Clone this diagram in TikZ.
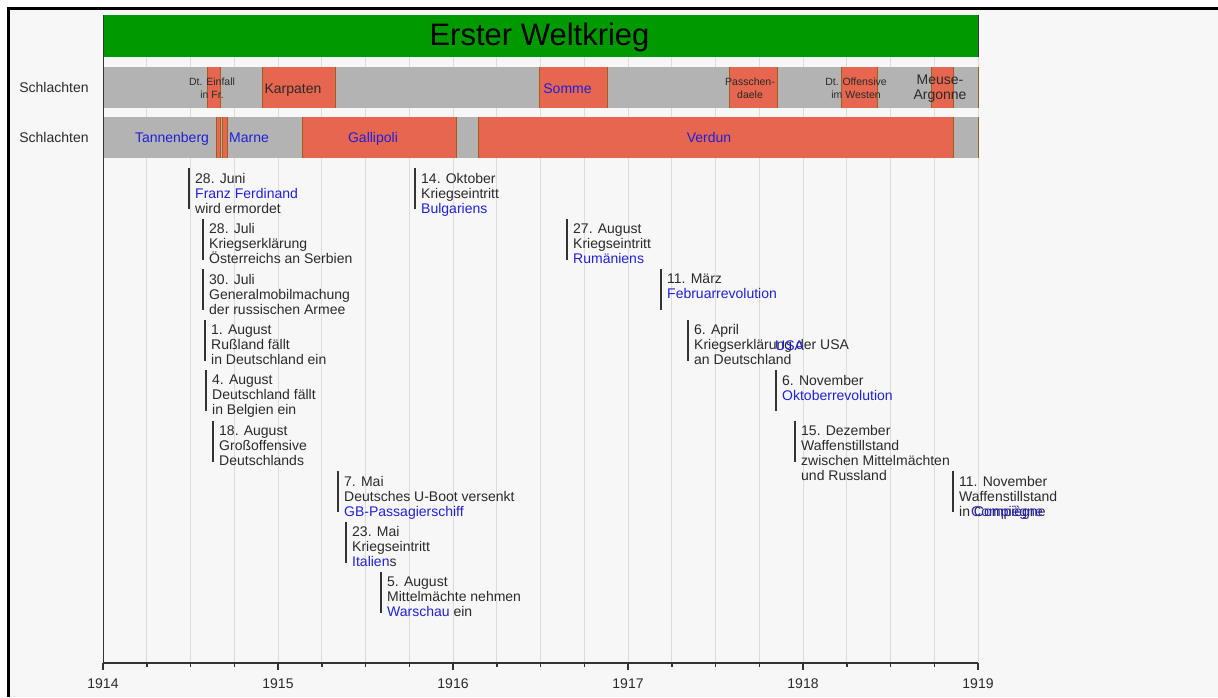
\documentclass[tikz,border=0pt]{standalone}
\usepackage{fontspec}
\setmainfont{Liberation Sans}
\definecolor{bgc}{HTML}{F7F7F7}
\definecolor{greenc}{HTML}{009900}
\definecolor{grayc}{HTML}{B3B3B3}
\definecolor{redc}{HTML}{E66650}
\definecolor{edgec}{HTML}{A0601A}
\definecolor{gridc}{HTML}{DCDCDC}
\definecolor{axisc}{HTML}{333333}
\definecolor{textc}{HTML}{2A2A2A}
\definecolor{linkc}{HTML}{2020D8}
\newcommand{\lk}[1]{\textcolor{linkc}{#1}}
\newcommand{\battlebar}[4]{%
  \fill[redc] (#1,#3) rectangle (#2,#4);
  \draw[edgec,line width=1pt] (#1,#3) -- (#1,#4) (#2,#3) -- (#2,#4);}
\begin{document}
\begin{tikzpicture}[x=1pt,y=-1pt,
  evt/.style={font=\fontsize{14}{15}\selectfont, align=left, inner sep=0pt, text=textc, anchor=north west, execute at begin node=\strut},
  evline/.style={draw=axisc, line width=1.5pt},
  blab/.style={font=\fontsize{14}{15}\selectfont, inner sep=0pt, anchor=base},
  slab/.style={font=\fontsize{10.5}{13}\selectfont, inner sep=0pt, anchor=north, align=center, text=textc, execute at begin node=\strut},
  mlab/.style={font=\fontsize{14}{15}\selectfont, inner sep=0pt, anchor=north, align=center, text=textc, execute at begin node=\strut},
  ylab/.style={font=\fontsize{14}{15}\selectfont, inner sep=0pt, anchor=base, text=textc}]
\useasboundingbox (0,0) rectangle (1218,697);
\fill[white] (0,0) rectangle (1218,697);
\fill[bgc] (8.5,8.5) rectangle (1218,697);
\draw[line width=3pt] (8.5,697) -- (8.5,8.5) -- (1218,8.5);
% grid
\foreach \k in {1,...,20} \draw[gridc, line width=1pt] ({103+43.75*\k},15) -- ({103+43.75*\k},663);
% title bar
\fill[greenc] (103,15) rectangle (978,57);
\draw[axisc, line width=1pt] (978,15) -- (978,57);
\node[font=\fontsize{31}{34}\selectfont, inner sep=0pt, anchor=base, text=black] (title) at (539.5,45.5) {Erster Weltkrieg};
% rows
\fill[grayc] (103,67) rectangle (978,108);
\fill[grayc] (103,117) rectangle (978,158);
\battlebar{207}{220.5}{67}{108}
\battlebar{262}{335}{67}{108}
\battlebar{539.5}{607}{67}{108}
\battlebar{729}{777}{67}{108}
\battlebar{841}{877}{67}{108}
\battlebar{931}{953}{67}{108}
\draw[edgec, line width=1pt] (978,67) -- (978,108) (978,117) -- (978,158);
\battlebar{216}{220}{117}{158}
\battlebar{222}{227}{117}{158}
\battlebar{302}{456.5}{117}{158}
\battlebar{478}{953}{117}{158}
% row labels
\node[blab, text=textc] (row1) at (54,92.5) {Schlachten};
\node[blab, text=textc] (row2) at (54,142.5) {Schlachten};
% battle labels
\node[slab] (einfall) at (212,77.9) {Dt. Einfall\\in Fr.};
\node[blab, text=textc] (karpaten) at (293,93) {Karpaten};
\node[blab, text=linkc] (somme) at (567.5,93) {Somme};
\node[slab] (passchendaele) at (750,77.9) {Passchen-\\daele};
\node[slab] (offensive) at (856,77.9) {Dt. Offensive\\im Westen};
\node[mlab] (meuse) at (940,74.5) {Meuse-\\Argonne};
\node[blab, text=linkc] (tannenberg) at (172,142.5) {Tannenberg};
\node[blab, text=linkc] (marne) at (249,142.5) {Marne};
\node[blab, text=linkc] (gallipoli) at (373,142.5) {Gallipoli};
\node[blab, text=linkc] (verdun) at (709,142.5) {Verdun};
% left axis line
\draw[axisc, line width=1pt] (103,15) -- (103,663);
% events
\coordinate (l1) at (189,168);
\coordinate (l2) at (203,218.5);
\coordinate (l3) at (203,269);
\coordinate (l4) at (205,319.5);
\coordinate (l5) at (206,370);
\coordinate (l6) at (213,420.5);
\coordinate (l7) at (338,471);
\coordinate (l8) at (346,521.5);
\coordinate (l9) at (381,572);
\coordinate (l10) at (415,168);
\coordinate (l11) at (567,218.5);
\coordinate (l12) at (661,269);
\coordinate (l13) at (688,319.5);
\coordinate (l14) at (776,370);
\coordinate (l15) at (795,420.5);
\coordinate (l16) at (953,471);
\foreach \i in {1,...,16} \draw[evline] (l\i) -- ++(0,41);
\node[evt] (e1) at ([shift={(6,5)}]l1) {28. Juni\\\lk{Franz Ferdinand}\\wird ermordet};
\node[evt] (e2) at ([shift={(6,5)}]l2) {28. Juli\\Kriegserklärung\\Österreichs an Serbien};
\node[evt] (e3) at ([shift={(6,5)}]l3) {30. Juli\\Generalmobilmachung\\der russischen Armee};
\node[evt] (e4) at ([shift={(6,5)}]l4) {1. August\\Rußland fällt\\in Deutschland ein};
\node[evt] (e5) at ([shift={(6,5)}]l5) {4. August\\Deutschland fällt\\in Belgien ein};
\node[evt] (e6) at ([shift={(6,5)}]l6) {18. August\\Großoffensive\\Deutschlands};
\node[evt] (e7) at ([shift={(6,5)}]l7) {7. Mai\\Deutsches U-Boot versenkt\\\lk{GB-Passagierschiff}};
\node[evt] (e8) at ([shift={(6,5)}]l8) {23. Mai\\Kriegseintritt\\\lk{Italien}s};
\node[evt] (e9) at ([shift={(6,5)}]l9) {5. August\\Mittelmächte nehmen\\\lk{Warschau} ein};
\node[evt] (e10) at ([shift={(6,5)}]l10) {14. Oktober\\Kriegseintritt\\\lk{Bulgariens}};
\node[evt] (e11) at ([shift={(6,5)}]l11) {27. August\\Kriegseintritt\\\lk{Rumäniens}};
\node[evt] (e12) at ([shift={(6,5)}]l12) {11. März\\\lk{Februarrevolution}};
\node[evt] (e13) at ([shift={(6,5)}]l13) {6. April\\Kriegserklärung der USA\\an Deutschland};
\node[evt] (e14) at ([shift={(6,5)}]l14) {6. November\\\lk{Oktoberrevolution}};
\node[evt] (e15) at ([shift={(6,5)}]l15) {15. Dezember\\Waffenstillstand\\zwischen Mittelmächten\\und Russland};
\node[evt] (e16) at ([shift={(6,5)}]l16) {11. November\\Waffenstillstand\\in Compiègne};
\node[blab, anchor=base west, text=linkc] (usa) at (775,350) {USA};
\node[blab, anchor=base west, text=linkc] (compiegne) at (971,516.5) {Compiègne};
% axis
\draw[axisc, line width=2pt] (103,663) -- (978,663);
\foreach \k in {0,...,5} {
  \draw[axisc, line width=1.5pt] ({103+175*\k},663) -- ({103+175*\k},670);
  \pgfmathtruncatemacro{\yr}{1914+\k}
  \node[ylab] (y\k) at ({103+175*\k},688) {\yr};
}
\foreach \k in {1,2,3,5,6,7,9,10,11,13,14,15,17,18,19} \draw[axisc, line width=1.5pt] ({103+43.75*\k},663) -- ({103+43.75*\k},667);
\end{tikzpicture}
\end{document}
